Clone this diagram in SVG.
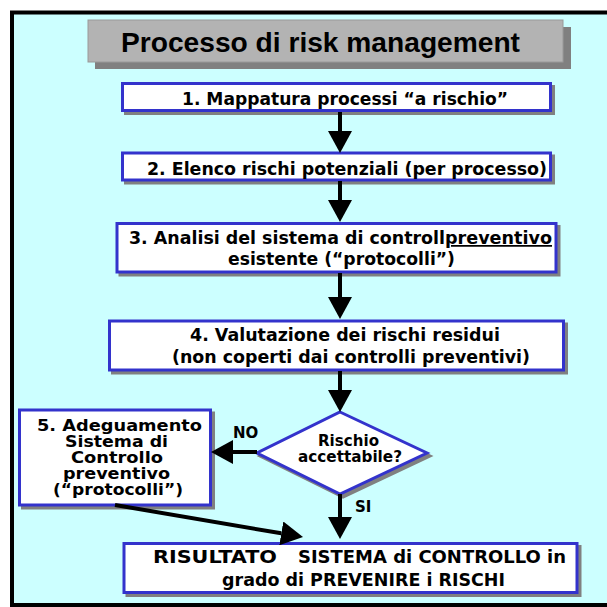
<svg xmlns="http://www.w3.org/2000/svg" width="607" height="607" viewBox="0 0 607 607">
<style>
.box{fill:#FFFFFF;stroke:#3333CC;stroke-width:3}
.shd{fill:#808080;stroke:#808080;stroke-width:3}
.t{font-family:"DejaVu Sans",Verdana,sans-serif;font-weight:bold;font-size:17.4px;fill:#000000}
.s{font-size:15px}
.f{font-size:15px}
.c{stroke:#000000;stroke-width:4;fill:none;marker-end:url(#ah)}
</style>
<defs>
<marker id="ah" markerUnits="userSpaceOnUse" markerWidth="22" markerHeight="24" viewBox="0 -12 22 24" refX="0" refY="0" orient="auto">
<path d="M0,-12 L22,0 L0,12 Z" fill="#000000"/>
</marker>
</defs>
<rect width="607" height="607" fill="#FFFFFF"/>
<rect id="frame" x="12" y="12.5" width="620" height="592.5" fill="#CCFFFF" stroke="#000000" stroke-width="4"/>

<g id="title">
<rect x="95" y="27" width="476" height="42" fill="#808080"/>
<rect x="88" y="20" width="475" height="42" fill="#B3B3B3" stroke="#999999" stroke-width="1"/>
<text x="121" y="52" font-family="'Liberation Sans',Arial,sans-serif" font-weight="bold" font-size="28" textLength="399" lengthAdjust="spacingAndGlyphs">Processo di risk management</text>
</g>

<g id="n1">
<rect class="shd" x="125.5" y="86.5" width="428" height="27"/>
<rect class="box" x="122.5" y="83.5" width="428" height="27"/>
<text class="t" x="182" y="105" textLength="326" lengthAdjust="spacingAndGlyphs">1. Mappatura processi “a rischio”</text>
</g>

<g id="n2">
<rect class="shd" x="125.5" y="156" width="428" height="27"/>
<rect class="box" x="122.5" y="153" width="428" height="27"/>
<text class="t" x="147" y="175" textLength="400" lengthAdjust="spacingAndGlyphs">2. Elenco rischi potenziali (per processo)</text>
</g>

<g id="n3">
<rect class="shd" x="120" y="226.5" width="439" height="48.5"/>
<rect class="box" x="117" y="223.5" width="439" height="48.5"/>
<text class="t" x="129" y="244" textLength="316" lengthAdjust="spacingAndGlyphs">3. Analisi del sistema di controll</text>
<text class="t" x="445" y="244" textLength="107" lengthAdjust="spacingAndGlyphs" text-decoration="underline">preventivo</text>
<text class="t" x="228" y="265" textLength="227" lengthAdjust="spacingAndGlyphs">esistente (“protocolli”)</text>
</g>

<g id="n4">
<rect class="shd" x="112.5" y="324" width="454" height="49"/>
<rect class="box" x="109.5" y="321" width="454" height="49"/>
<text class="t" x="190" y="341" textLength="310" lengthAdjust="spacingAndGlyphs">4. Valutazione dei rischi residui</text>
<text class="t" x="172" y="363" textLength="358" lengthAdjust="spacingAndGlyphs">(non coperti dai controlli preventivi)</text>
</g>

<g id="decision">
<polygon class="shd" points="343,415 430,456 343,497 260,456"/>
<polygon class="box" points="340,412 427,453 340,494 257,453"/>
<text class="t s" x="318" y="446" textLength="61" lengthAdjust="spacingAndGlyphs">Rischio</text>
<text class="t s" x="298" y="462" textLength="104" lengthAdjust="spacingAndGlyphs">accettabile?</text>
</g>

<g id="n5">
<rect class="shd" x="22.5" y="413" width="191" height="95"/>
<rect class="box" x="19.5" y="410" width="191" height="95"/>
<text class="t f" x="37" y="431" textLength="165" lengthAdjust="spacingAndGlyphs">5. Adeguamento</text>
<text class="t f" x="65" y="447" textLength="103" lengthAdjust="spacingAndGlyphs">Sistema di</text>
<text class="t f" x="71" y="463" textLength="92" lengthAdjust="spacingAndGlyphs">Controllo</text>
<text class="t f" x="63" y="479" textLength="107" lengthAdjust="spacingAndGlyphs">preventivo</text>
<text class="t f" x="53" y="495" textLength="130" lengthAdjust="spacingAndGlyphs">(“protocolli”)</text>
</g>

<g id="result">
<rect class="shd" x="127" y="546.5" width="453" height="49"/>
<rect class="box" x="124" y="543.5" width="453" height="49"/>
<text class="t" y="563"><tspan x="153" textLength="124" lengthAdjust="spacingAndGlyphs">RISULTATO</tspan><tspan x="298" textLength="268" lengthAdjust="spacingAndGlyphs">SISTEMA di CONTROLLO in</tspan></text>
<text class="t" x="222" y="586" textLength="283" lengthAdjust="spacingAndGlyphs">grado di PREVENIRE i RISCHI</text>
</g>

<g id="connectors">
<line class="c" x1="340" y1="112" x2="340" y2="131"/>
<line class="c" x1="340" y1="181" x2="340" y2="200"/>
<line class="c" x1="340" y1="273" x2="340" y2="297"/>
<line class="c" x1="340" y1="371" x2="340" y2="390"/>
<line class="c" x1="340" y1="494" x2="340" y2="517"/>
<line class="c" x1="257" y1="452" x2="233" y2="452"/>
<line class="c" x1="115" y1="505" x2="281.3" y2="533.3"/>
<text class="t s" x="233" y="438">NO</text>
<text class="t s" x="355" y="512">SI</text>
</g>
</svg>
